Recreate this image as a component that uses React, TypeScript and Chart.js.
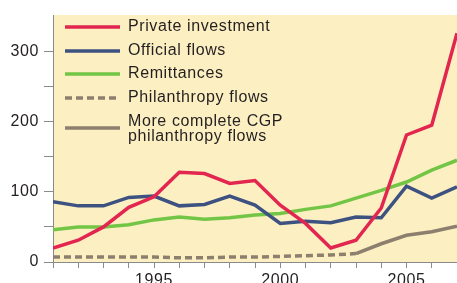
import React, { useEffect, useRef } from 'react';
import { Chart, registerables } from 'chart.js';
Chart.register(...registerables);

const years = [1991, 1992, 1993, 1994, 1995, 1996, 1997, 1998, 1999, 2000, 2001, 2002, 2003, 2004, 2005, 2006, 2007];
const privateInvestment = [20, 31, 50, 78, 93, 128, 126, 112, 116, 81, 55, 20, 31, 77, 181, 195, 326];
const officialFlows = [86, 80, 80, 92, 94, 80, 82, 94, 81, 55, 58, 56, 64, 63, 108, 91, 107];
const remittances = [46, 50, 50, 53, 60, 64, 61, 63, 67, 69, 75, 80, 91, 102, 114, 131, 145];
const philanthropyYears = [1991, 1992, 1993, 1994, 1995, 1996, 1997, 1998, 1999, 2000, 2001, 2002, 2003];
const philanthropyFlows = [7, 7, 7, 7, 7, 6, 6, 7, 7, 8, 9, 10, 12];
const cgpYears = [2003, 2004, 2005, 2006, 2007];
const cgpFlows = [12, 26, 38, 43, 51];
const yTicks = [0, 50, 100, 150, 200, 250, 300];
const yLabels = [0, 100, 200, 300];
const xLabels = [1995, 2000, 2005];
const legendLabels = [
  ['Private investment'],
  ['Official flows'],
  ['Remittances'],
  ['Philanthropy flows'],
  ['More complete CGP', 'philanthropy flows'],
];

const FONT = '"Liberation Sans", Arial, Helvetica, sans-serif';
const TEXT = '#231f20';
const AXIS = '#8a8a8a';

const pts = (xs: number[], ys: number[]) => xs.map((x, i) => ({ x, y: ys[i] }));

const bgPlugin = {
  id: 'bg',
  beforeDraw(chart: any) {
    const { ctx, chartArea } = chart;
    ctx.save();
    ctx.fillStyle = '#fcf0c3';
    ctx.fillRect(chartArea.left, chartArea.top, chartArea.right - chartArea.left, chartArea.bottom - chartArea.top);
    ctx.restore();
    try { ctx.letterSpacing = '0.6px'; } catch (e) {}
  },
};

const legendPlugin = {
  id: 'customLegend',
  afterDatasetsDraw(chart: any) {
    const { ctx, chartArea } = chart;
    const top = chartArea.top;
    const rowsLine = [12, 36, 59, 83, 113];
    const rowsText = [[12], [36], [59], [83], [107, 122]];
    ctx.save();
    try { ctx.letterSpacing = '0.6px'; } catch (e) {}
    chart.data.datasets.forEach((ds: any, i: number) => {
      const y = top + rowsLine[i];
      ctx.beginPath();
      ctx.strokeStyle = ds.borderColor;
      ctx.lineWidth = ds.borderWidth;
      ctx.setLineDash(ds.borderDash || []);
      ctx.moveTo(65, y);
      ctx.lineTo(120, y);
      ctx.stroke();
      ctx.setLineDash([]);
      ctx.fillStyle = TEXT;
      ctx.font = `16px ${FONT}`;
      ctx.textBaseline = 'middle';
      ctx.textAlign = 'left';
      legendLabels[i].forEach((t, j) => {
        ctx.fillText(t, 128, top + rowsText[i][j]);
      });
    });
    ctx.restore();
  },
};

export default function App() {
  const ref = useRef<HTMLCanvasElement>(null);
  useEffect(() => {
    if (!ref.current) return;
    const chart = new Chart(ref.current, {
      type: 'line',
      data: {
        datasets: [
          { label: 'Private investment', data: pts(years, privateInvestment), borderColor: '#e2264f', borderWidth: 3.5, pointRadius: 0, tension: 0 },
          { label: 'Official flows', data: pts(years, officialFlows), borderColor: '#3e5282', borderWidth: 3.5, pointRadius: 0, tension: 0 },
          { label: 'Remittances', data: pts(years, remittances), borderColor: '#72c545', borderWidth: 3.5, pointRadius: 0, tension: 0 },
          { label: 'Philanthropy flows', data: pts(philanthropyYears, philanthropyFlows), borderColor: '#8d7f6e', borderWidth: 3.5, borderDash: [7, 4], pointRadius: 0, tension: 0 },
          { label: 'More complete CGP philanthropy flows', data: pts(cgpYears, cgpFlows), borderColor: '#8d7f6e', borderWidth: 3.5, pointRadius: 0, tension: 0 },
        ],
      },
      options: {
        responsive: false,
        animation: false,
        devicePixelRatio: 1,
        layout: { padding: { top: 15, left: 0, right: 0, bottom: 0 } },
        plugins: { legend: { display: false }, tooltip: { enabled: false } },
        scales: {
          x: {
            type: 'linear',
            min: 1991,
            max: 2007,
            afterBuildTicks: (scale: any) => { scale.ticks = years.map((v) => ({ value: v })); },
            afterFit: (scale: any) => { scale.height = 38; scale.paddingLeft = 0; scale.paddingRight = 0; },
            ticks: {
              autoSkip: false,
              maxRotation: 0,
              padding: 3,
              color: TEXT,
              font: { family: FONT, size: 16 },
              callback: (v: any) => (xLabels.includes(Number(v)) ? String(v) : ''),
            },
            grid: { drawOnChartArea: false, drawTicks: true, tickLength: 6, color: AXIS },
            border: { color: AXIS, width: 1 },
          },
          y: {
            min: 0,
            max: 352,
            afterBuildTicks: (scale: any) => { scale.ticks = yTicks.map((v) => ({ value: v })); },
            afterFit: (scale: any) => { scale.width = 53; scale.paddingTop = 0; scale.paddingBottom = 0; },
            ticks: {
              autoSkip: false,
              padding: 5,
              color: TEXT,
              font: { family: FONT, size: 16 },
              callback: (v: any) => (yLabels.includes(Number(v)) ? String(v) : ''),
            },
            grid: { drawOnChartArea: false, drawTicks: true, tickLength: 9, color: AXIS },
            border: { color: AXIS, width: 1 },
          },
        },
      },
      plugins: [bgPlugin, legendPlugin],
    });
    return () => chart.destroy();
  }, []);
  return (
    <canvas
      ref={ref}
      width={457}
      height={300}
      style={{ position: 'fixed', left: 0, top: 0, display: 'block', width: 457, height: 300 }}
    />
  );
}
